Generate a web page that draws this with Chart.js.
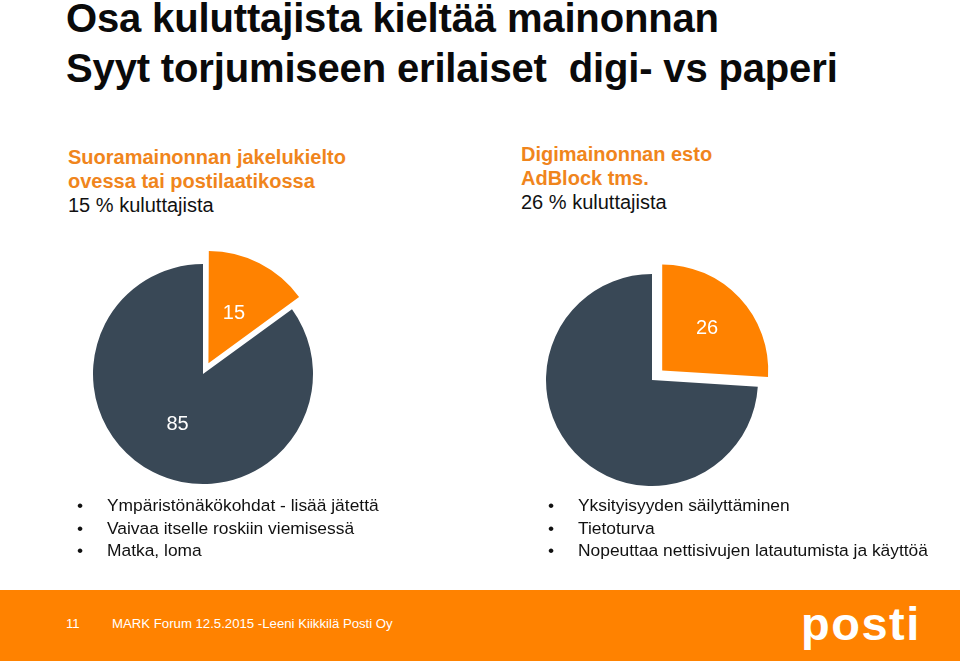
<!DOCTYPE html>
<html>
<head>
<meta charset="utf-8">
<script src="https://cdn.jsdelivr.net/npm/chart.js@4/dist/chart.umd.min.js"></script>
<style>
  body { margin: 0; width: 960px; height: 661px; background: #fff; position: relative; overflow: hidden;
         font-family: Arial, "Liberation Sans", sans-serif; }
  .abs { position: absolute; }
  .title { position: absolute; left: 66px; margin: 0; font-size: 40px; line-height: 36px; font-weight: bold; color: #0a0a0a; letter-spacing: -0.15px; white-space: pre; }
  .sub { position: absolute; font-size: 20px; line-height: 24px; color: #111; }
  .sub b { color: #f0851c; }
  ul { position: absolute; margin: 0; padding: 0; list-style: none; font-size: 17.4px; line-height: 22.5px; color: #111; }
  ul li { position: relative; padding-left: 30px; white-space: nowrap; }
  ul li::before { content: "\2022"; position: absolute; left: 0; }
  #footer { position: absolute; left: 0; top: 590px; width: 960px; height: 71px; background: #ff8200; color: #fff; }
  #footer span { position: absolute; top: 26px; font-size: 13.2px; }
  #logo { position: absolute; left: 801px; top: 10px; font-size: 47px; line-height: 47px; font-weight: bold; letter-spacing: 1.5px; }
</style>
</head>
<body>
<div class="title" style="top:0px;">Osa kuluttajista kieltää mainonnan</div>
<div class="title" style="top:50px;">Syyt torjumiseen erilaiset  digi- vs paperi</div>

<div class="sub" style="left:68px; top:145px;"><b>Suoramainonnan jakelukielto<br>ovessa tai postilaatikossa</b><br>15 % kuluttajista</div>
<div class="sub" style="left:521px; top:142px;"><b>Digimainonnan esto<br>AdBlock tms.</b><br>26 % kuluttajista</div>

<div class="abs" style="left:73px; top:244px; width:260px; height:260px;"><canvas id="pie1"></canvas></div>
<div class="abs" style="left:522px; top:250px; width:260px; height:260px;"><canvas id="pie2"></canvas></div>

<ul id="list1" style="left:77px; top:494px;"></ul>
<ul id="list2" style="left:548px; top:494px;"></ul>

<div id="footer">
  <span style="left:66px;">11</span>
  <span style="left:112px;">MARK Forum 12.5.2015 -Leeni Kiikkilä Posti Oy</span>
  <div id="logo">posti</div>
</div>

<script>
const categories = ["Kieltää mainonnan", "Muut"];
const paperValues = [15, 85];
const paperLabels = ["15", "85"];
const digiValues = [26, 74];
const digiLabels = ["26", null];
const paperReasons = ["Ympäristönäkökohdat - lisää jätettä", "Vaivaa itselle roskiin viemisessä", "Matka, loma"];
const digiReasons = ["Yksityisyyden säilyttäminen", "Tietoturva", "Nopeuttaa nettisivujen latautumista ja käyttöä"];

const orange = "#ff8200";
const slate = "#394856";

function fillList(id, items) {
    var ul = document.getElementById(id);
    items.forEach(function (t) {
        var li = document.createElement("li");
        li.textContent = t;
        ul.appendChild(li);
    });
}
fillList("list1", paperReasons);
fillList("list2", digiReasons);

// draws the value inside each slice (chart.js moves an arc by offset/4)
const sliceLabels = {
    id: "sliceLabels",
    afterDatasetsDraw(chart, args, opts) {
        const ctx = chart.ctx;
        const meta = chart.getDatasetMeta(0);
        const texts = opts.texts;
        ctx.save();
        ctx.fillStyle = "#fff";
        ctx.font = "20px Arial, 'Liberation Sans'";
        ctx.textAlign = "center";
        ctx.textBaseline = "middle";
        meta.data.forEach(function (arc, i) {
            if (!texts[i]) return;
            const p = arc.getProps(["x", "y", "startAngle", "endAngle", "outerRadius"], true);
            const mid = (p.startAngle + p.endAngle) / 2;
            const off = (arc.options.offset || 0) / 4;
            const d = p.outerRadius * opts.factor + off;
            ctx.fillText(texts[i], p.x + Math.cos(mid) * d, p.y + Math.sin(mid) * d);
        });
        ctx.restore();
    }
};

function makePie(id, values, texts, radius, offset, factor) {
    const ctx = document.getElementById(id).getContext("2d");
    return new Chart(ctx, {
        type: "pie",
        data: {
            labels: categories,
            datasets: [{
                data: values,
                backgroundColor: [orange, slate],
                borderWidth: 0,
                offset: [offset * 4, 0]
            }]
        },
        options: {
            responsive: true,
            maintainAspectRatio: false,
            animation: false,
            radius: radius,
            layout: { padding: 0 },
            plugins: {
                legend: { display: false },
                tooltip: { enabled: false },
                sliceLabels: { texts: texts, factor: factor }
            }
        },
        plugins: [sliceLabels]
    });
}

makePie("pie1", paperValues, paperLabels, 110, 12, 0.51);
makePie("pie2", digiValues, digiLabels, 106, 14, 0.58);
</script>
</body>
</html>
